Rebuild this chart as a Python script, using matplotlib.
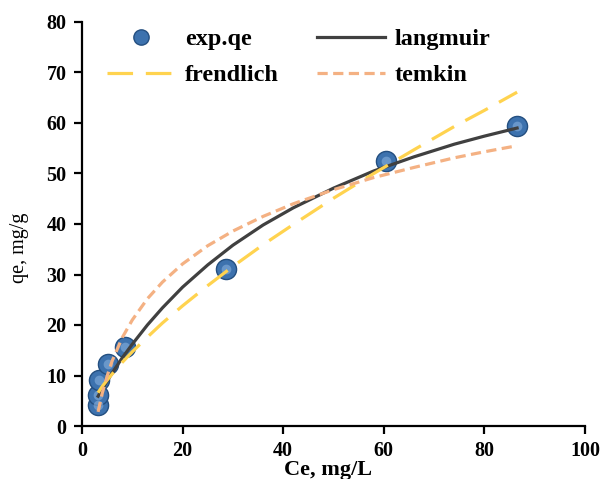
import matplotlib
matplotlib.use("Agg")
import matplotlib.pyplot as plt
from matplotlib.lines import Line2D

plt.rcParams['font.family'] = ['Liberation Serif', 'DejaVu Serif']
plt.rcParams['font.weight'] = 'bold'

# experimental data
ce_exp = [3.2, 3.2, 3.4, 5.2, 8.5, 28.6, 60.4, 86.5]
qe_exp = [4.2, 6.1, 9.2, 12.2, 15.7, 31.0, 52.4, 59.4]

# model curves
ce_fit = [3.2, 4, 5, 6, 8, 10, 13, 16, 20, 25, 30, 36, 42, 50, 58, 66, 74, 80, 86.5]
q_langmuir = [5.9, 7.3, 8.9, 10.5, 13.5, 16.2, 20.0, 23.4, 27.5, 31.9, 35.8, 39.8,
              43.2, 47.1, 50.5, 53.3, 55.8, 57.4, 59.0]
q_frendlich = [6.6, 7.8, 9.1, 10.3, 12.6, 14.7, 17.6, 20.4, 23.8, 27.8, 31.6, 35.9,
               39.9, 45.1, 50.0, 54.7, 59.3, 62.5, 66.1]
q_temkin = [2.8, 6.4, 9.9, 12.9, 17.5, 21.0, 25.2, 28.5, 32.1, 35.7, 38.6, 41.5,
            44.0, 46.8, 49.2, 51.2, 53.1, 54.3, 55.5]

xticks = [0, 20, 40, 60, 80, 100]
yticks = [0, 10, 20, 30, 40, 50, 60, 70, 80]

W, H = 604, 479
fig = plt.figure(figsize=(W / 100, H / 100), dpi=100)
ax = fig.add_axes([82 / W, 1 - 426 / H, (585 - 82) / W, (426 - 22) / H])

C_BLUE, C_BLUE_E, C_HI = '#3D72AE', '#244F80', '#8FB6E2'
C_LANG, C_FREN, C_TEMK = '#404040', '#FFD34F', '#F4B183'
FREN_D, TEMK_D = (8, 4), (3.2, 1.7)

# sphere-like markers
ax.plot(ce_exp, qe_exp, 'o', ms=14.5, mfc=C_BLUE, mec=C_BLUE_E, mew=1.0, zorder=2)
ax.plot(ce_exp, qe_exp, 'o', ms=7, mfc=C_HI, mec='none', alpha=0.55, zorder=2)

ax.plot(ce_fit, q_langmuir, '-', color=C_LANG, lw=2.3, zorder=3)
ax.plot(ce_fit, q_frendlich, color=C_FREN, lw=2.3, dashes=FREN_D, zorder=3)
ax.plot(ce_fit, q_temkin, color=C_TEMK, lw=2.3, dashes=TEMK_D, zorder=3)

ax.set_xlim(0, 100)
ax.set_ylim(0, 80)
ax.set_xticks(xticks)
ax.set_yticks(yticks)
for s in ['top', 'right']:
    ax.spines[s].set_visible(False)
for s in ['left', 'bottom']:
    ax.spines[s].set_linewidth(1.6)
ax.tick_params(axis='both', direction='out', length=6, width=1.6, labelsize=14.5, pad=5)
for lab in ax.get_xticklabels() + ax.get_yticklabels():
    lab.set_fontweight('bold')

ax.set_xlabel('Ce, mg/L', fontsize=16, fontweight='bold')
ax.xaxis.set_label_coords(0.49, -(460 - 426) / (426 - 22))
ax.xaxis.label.set_va('top')
ax.set_ylabel('qe, mg/g', fontsize=14.5, fontweight='normal')
ax.yaxis.set_label_coords((29 - 82) / (585 - 82), (426 - 248) / (426 - 22))

handles = [
    Line2D([], [], ls='none', marker='o', ms=11, mfc=C_BLUE, mec=C_BLUE_E),
    Line2D([], [], color=C_FREN, lw=2.3, dashes=FREN_D),
    Line2D([], [], color=C_LANG, lw=2.3),
    Line2D([], [], color=C_TEMK, lw=2.3, dashes=TEMK_D),
]
labels = ['exp.qe', 'frendlich', 'langmuir', 'temkin']
leg = ax.legend(handles, labels, ncol=2, loc='upper left', frameon=False,
                bbox_to_anchor=(107 / W, 1 - 28 / H), bbox_transform=fig.transFigure,
                borderaxespad=0, borderpad=0,
                prop={'size': 17.5, 'weight': 'bold'},
                handlelength=2.8, handletextpad=0.42, columnspacing=1.55,
                labelspacing=0.58)

fig.savefig('out.png', dpi=100)
